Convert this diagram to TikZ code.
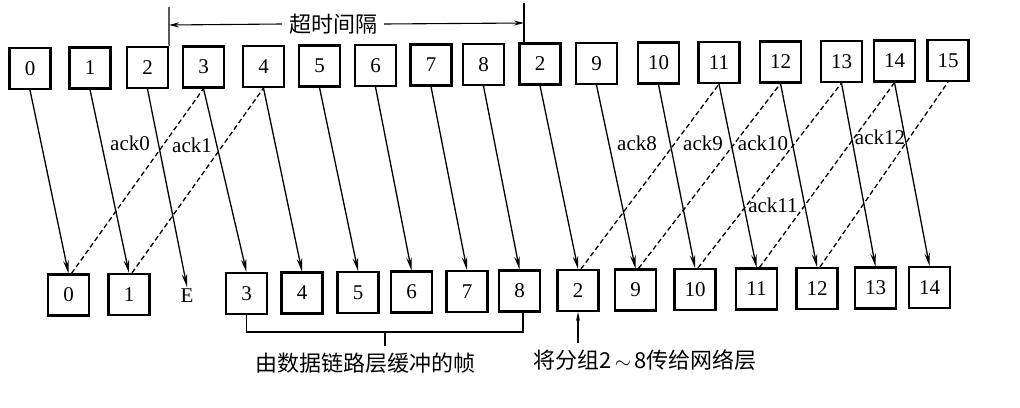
\documentclass[tikz,border=0pt]{standalone}
\usepackage{fontspec}
\setmainfont{Liberation Serif}
\newfontfamily\cjk{Noto Sans CJK SC}
\usetikzlibrary{arrows.meta}
\begin{document}
\begin{tikzpicture}[x=1pt,y=-1pt,
  fr/.style={draw,line width=2.1pt,minimum size=41pt,inner sep=0pt,font=\fontsize{21}{24}\selectfont},
  snd/.style={line width=1.3pt,-{Stealth[length=13pt,width=5.5pt]}},
  ackl/.style={line width=1.3pt,dash pattern=on 5pt off 3pt},
  lbl/.style={font=\fontsize{21}{24}\selectfont,inner sep=0pt},
  cj/.style={font=\cjk\fontsize{22}{24}\selectfont,inner sep=1pt},
  thin/.style={line width=1.1pt}]
\useasboundingbox[fill=white] (0,0) rectangle (1020,407);
% top row
\foreach \n/\x/\y/\t in {t0/30/68.5/0, t1/90/68/1, t2/147.5/67.5/2, t3/203.5/67/3, t4/263.5/66.5/4,
  t5/319.5/66/5, t6/375.5/65.5/6, t7/431/65/7, t8/483.5/64.5/8, t2r/540/64/2, t9/596.5/63.5/9,
  t10/658.5/63/10, t11/719/62.5/11, t12/780.5/62/12, t13/841.5/61.5/13, t14/894.5/61/14, t15/948/60.5/15}
  \node[fr] (\n) at (\x,\y) {\t};
% bottom row
\foreach \n/\x/\y/\t in {b0/68.5/295/0, b1/129/294.5/1, b3/246.5/293.5/3, b4/302/293/4,
  b5/358/292.5/5, b6/411.5/292/6, b7/467/291.5/7, b8/519.5/291/8, b2/578/290.5/2, b9/635.5/290/9,
  b10/695/289.5/10, b11/756.5/289/11, b12/817/288.5/12, b13/875.5/288/13, b14/929.5/287.5/14}
  \node[fr] (\n) at (\x,\y) {\t};
\node[font=\fontsize{21}{24}\selectfont,inner sep=2pt] (bE) at (187,296) {E};
% frames sent
\foreach \a/\b in {t0/b0, t1/b1, t2/bE, t3/b3, t4/b4, t5/b5, t6/b6, t7/b7, t8/b8, t2r/b2,
  t9/b9, t10/b10, t11/b11, t12/b12, t13/b13, t14/b14}
  \draw[snd] (\a.south) -- (\b.north);
% acks
\foreach \a/\b in {b0/t3, b1/t4, b2/t11, b9/t12, b10/t13, b11/t14, b12/t15}
  \draw[ackl] ([xshift=3pt]\a.north) -- (\b.south);
\node[lbl] (k0) at (130,143) {ack0};
\node[lbl] (k1) at (192,145) {ack1};
\node[lbl] (k8) at (637,143) {ack8};
\node[lbl] (k9) at (703,143) {ack9};
\node[lbl] (k10) at (763,143) {ack10};
\node[lbl] (k11) at (773,205) {ack11};
\node[lbl] (k12) at (880,137) {ack12};
% timeout interval
\coordinate (tl) at (169,7);
\coordinate (tr) at (524,3);
\node[cj] (to) at (333,24) {超时间隔};
\draw[thin] (t2.north east) -- (tl);
\draw[thin] (tr) -- (524,44);
\draw[thin,-{Stealth[length=10pt,width=5pt]}] ([xshift=-6pt]to.west) -- (169,25);
\draw[thin,-{Stealth[length=10pt,width=5pt]}] ([xshift=6pt]to.east) -- (524,23);
% buffered bracket
\coordinate (bl) at (246.5,332);
\coordinate (br) at (523,332);
\coordinate (bm) at (385,332);
\node[cj] (buf) at (365,363) {由数据链路层缓冲的帧};
\draw[thin] (b3.south) -- (bl) -- (br) -- ([xshift=3.5pt]b8.south);
\draw[thin] (bm) -- (385,346);
% deliver
\node[cj] (dl) at (645,360) {将分组2\,$\sim$\,8传给网络层};
\draw[thin,-{Stealth[length=9pt,width=4pt]}] (578,343) -- (b2.south);
\end{tikzpicture}
\end{document}
